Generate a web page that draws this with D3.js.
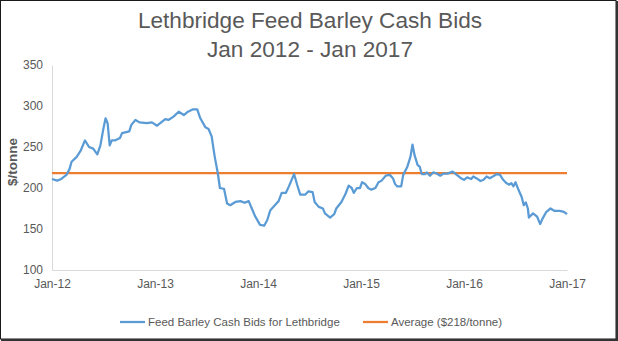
<!DOCTYPE html>
<html>
<head>
<meta charset="utf-8">
<script src="https://cdn.jsdelivr.net/npm/d3@7"></script>
<style>
  html, body { margin: 0; padding: 0; background: #fff; }
  svg { display: block; font-family: "Liberation Sans", Arial, sans-serif; }
</style>
</head>
<body>
<svg id="chart" width="618" height="341"></svg>
<script>
// ---- data ----
const titleLines = ["Lethbridge Feed Barley Cash Bids", "Jan 2012 - Jan 2017"];
const yTicks = [100, 150, 200, 250, 300, 350];
const xTicks = [2012, 2013, 2014, 2015, 2016, 2017];
const xTickLabels = ["Jan-12", "Jan-13", "Jan-14", "Jan-15", "Jan-16", "Jan-17"];
const seriesNames = ["Feed Barley Cash Bids for Lethbridge", "Average ($218/tonne)"];
const averageValue = 218;
// dates as decimal years
const dates = [
  2012.00, 2012.05, 2012.09, 2012.14, 2012.17, 2012.19, 2012.24, 2012.28, 2012.32, 2012.36,
  2012.40, 2012.44, 2012.47, 2012.50, 2012.52, 2012.54, 2012.56, 2012.58, 2012.61, 2012.66,
  2012.68, 2012.75, 2012.77, 2012.81, 2012.85, 2012.92, 2012.97, 2013.02, 2013.10, 2013.13,
  2013.18, 2013.23, 2013.28, 2013.32, 2013.37, 2013.41, 2013.44, 2013.49, 2013.52, 2013.55,
  2013.58, 2013.61, 2013.63, 2013.67, 2013.70, 2013.73, 2013.78, 2013.83, 2013.87, 2013.91,
  2013.94, 2013.97, 2014.02, 2014.06, 2014.09, 2014.12, 2014.17, 2014.20, 2014.23, 2014.27,
  2014.30, 2014.35, 2014.38, 2014.41, 2014.46, 2014.49, 2014.53, 2014.55, 2014.59, 2014.63,
  2014.65, 2014.70, 2014.74, 2014.76, 2014.81, 2014.85, 2014.88, 2014.91, 2014.93, 2014.96,
  2014.99, 2015.01, 2015.04, 2015.07, 2015.10, 2015.14, 2015.17, 2015.20, 2015.24, 2015.28,
  2015.31, 2015.33, 2015.35, 2015.39, 2015.41, 2015.45, 2015.48, 2015.50, 2015.52, 2015.55,
  2015.57, 2015.59, 2015.62, 2015.64, 2015.67, 2015.70, 2015.73, 2015.77, 2015.80, 2015.84,
  2015.89, 2015.93, 2015.97, 2016.00, 2016.03, 2016.07, 2016.09, 2016.12, 2016.16, 2016.19,
  2016.22, 2016.25, 2016.28, 2016.32, 2016.35, 2016.38, 2016.41, 2016.44, 2016.46, 2016.48,
  2016.50, 2016.53, 2016.56, 2016.58, 2016.60, 2016.62, 2016.63, 2016.67, 2016.71, 2016.74,
  2016.76, 2016.80, 2016.84, 2016.88, 2016.93, 2016.97, 2017.00
];
const bids = [
  211, 209, 211, 216, 223, 232, 238, 246, 258, 250,
  248, 241, 252, 273, 285, 279, 252, 258, 258, 261,
  267, 269, 277, 283, 280, 279, 280, 276, 284, 283,
  287, 293, 289, 293, 296, 296, 285, 274, 272, 263,
  238, 218, 200, 199, 181, 179, 183, 184, 182, 184,
  175, 166, 155, 154, 161, 173, 180, 184, 194, 194,
  202, 217, 204, 192, 192, 196, 195, 183, 177, 175,
  169, 164, 168, 175, 183, 193, 203, 200, 194, 200,
  200, 207, 205, 200, 198, 200, 207, 209, 215, 216,
  212, 205, 202, 202, 216, 226, 238, 253, 240, 228,
  226, 217, 217, 219, 215, 219, 218, 215, 217.5, 217.5,
  220, 216, 212, 210, 213, 211, 214, 212, 208.5, 210,
  214, 212, 214, 217, 216, 210, 206, 204, 206, 202,
  207, 197.5, 189, 179, 182.5, 175, 164, 169, 165, 156,
  162, 171, 175, 172, 172, 171, 168
];

// ---- drawing ----
const svg = d3.select("#chart");
const W = 618, H = 341;
const plot = { left: 52, right: 567, top: 65, bottom: 270 };
const textColor = "#595959";

svg.append("rect").attr("x", 0).attr("y", 0).attr("width", W).attr("height", H).attr("fill", "#fff");

const x = d3.scaleLinear().domain([xTicks[0], xTicks[xTicks.length - 1]]).range([plot.left, plot.right]);
const y = d3.scaleLinear().domain([yTicks[0], yTicks[yTicks.length - 1]]).range([plot.bottom, plot.top]);

// title
svg.append("text")
  .attr("x", 310).attr("text-anchor", "middle")
  .attr("fill", textColor).attr("font-size", 22.6)
  .selectAll("tspan").data(titleLines).join("tspan")
  .attr("x", 310).attr("y", (d, i) => 28 + i * 29)
  .text(d => d);

// y axis
const yAxis = d3.axisLeft(y).tickValues(yTicks).tickSize(0).tickPadding(9);
const gy = svg.append("g").attr("transform", `translate(${plot.left},0)`).call(yAxis);
gy.select(".domain").attr("stroke", "#d9d9d9").attr("stroke-width", 1);
gy.selectAll("text").attr("fill", textColor).attr("font-size", 12).attr("font-family", "Liberation Sans, Arial, sans-serif");

// x axis
const xAxis = d3.axisBottom(x).tickValues(xTicks).tickSize(0).tickPadding(9)
  .tickFormat((d, i) => xTickLabels[i]);
const gx = svg.append("g").attr("transform", `translate(0,${plot.bottom})`).call(xAxis);
gx.select(".domain").attr("stroke", "#d9d9d9").attr("stroke-width", 1);
gx.selectAll("text").attr("fill", textColor).attr("font-size", 12).attr("font-family", "Liberation Sans, Arial, sans-serif");

// y axis title
svg.append("text")
  .attr("transform", `translate(17,${162}) rotate(-90)`)
  .attr("text-anchor", "middle")
  .attr("fill", textColor).attr("font-size", 13.5).attr("font-weight", "bold")
  .text("$/tonne");

// average line
svg.append("line")
  .attr("x1", x(xTicks[0])).attr("x2", x(xTicks[xTicks.length - 1]))
  .attr("y1", y(averageValue)).attr("y2", y(averageValue))
  .attr("stroke", "#ED7D31").attr("stroke-width", 2.25);

// bids line
const series = dates.map((d, i) => ({ t: d, v: bids[i] }));
svg.append("path")
  .datum(series)
  .attr("fill", "none")
  .attr("stroke", "#5B9BD5")
  .attr("stroke-width", 2.25)
  .attr("stroke-linejoin", "round")
  .attr("d", d3.line().x(d => x(d.t)).y(d => y(d.v)));

// legend
const legendY = 322;
const legendItems = [
  { name: seriesNames[0], color: "#5B9BD5", x0: 120 },
  { name: seriesNames[1], color: "#ED7D31", x0: 363 }
];
const lg = svg.append("g").selectAll("g").data(legendItems).join("g");
lg.append("line")
  .attr("x1", d => d.x0).attr("x2", d => d.x0 + 25)
  .attr("y1", legendY).attr("y2", legendY)
  .attr("stroke", d => d.color).attr("stroke-width", 2.25);
lg.append("text")
  .attr("x", d => d.x0 + 28).attr("y", legendY + 4)
  .attr("fill", textColor).attr("font-size", 11.5)
  .text(d => d.name);

// outer frame
svg.append("rect").attr("x", 0.5).attr("y", 0.5).attr("width", 615.5).attr("height", 338.5)
  .attr("fill", "none").attr("stroke", "#1a1a1a").attr("stroke-width", 1);
svg.append("line").attr("x1", 617).attr("x2", 617).attr("y1", 1).attr("y2", 341).attr("stroke", "#333").attr("stroke-width", 2);
svg.append("line").attr("x1", 1).attr("x2", 618).attr("y1", 340).attr("y2", 340).attr("stroke", "#333").attr("stroke-width", 2);
</script>
</body>
</html>
